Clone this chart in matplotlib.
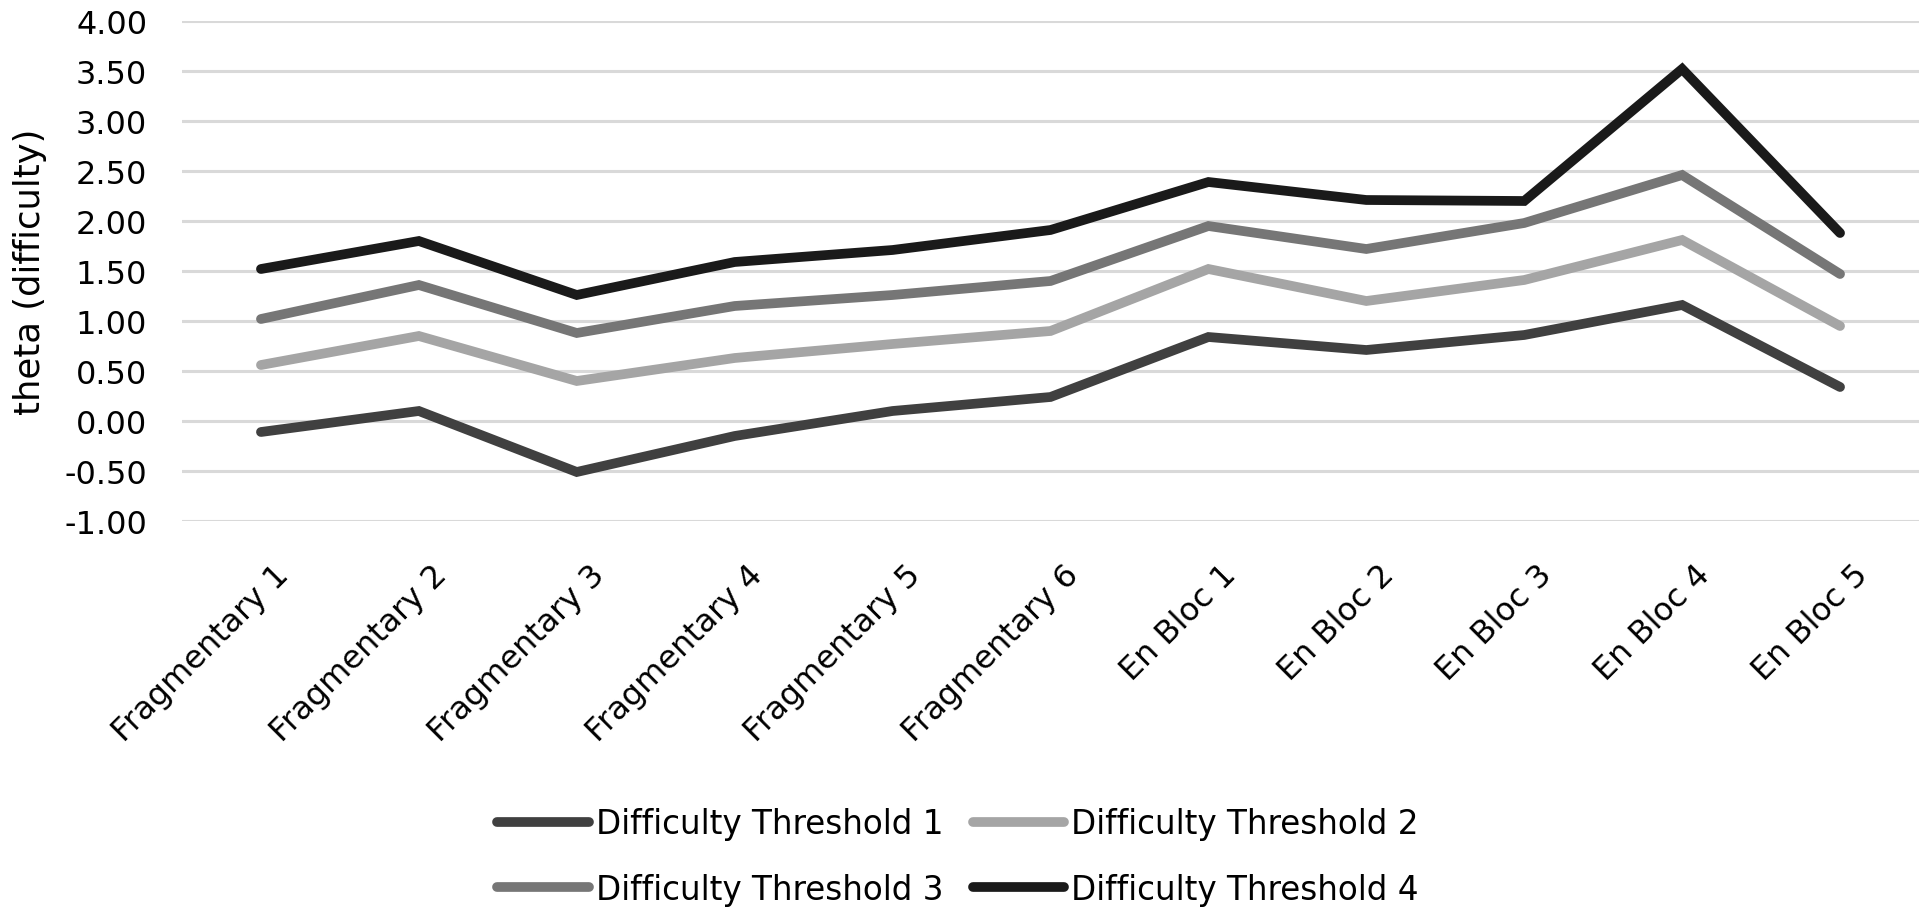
import matplotlib
matplotlib.use('Agg')
import matplotlib.pyplot as plt
from matplotlib.ticker import FormatStrFormatter, MultipleLocator
from matplotlib.transforms import ScaledTranslation

plt.rcParams['font.family'] = ['DejaVu Sans']
plt.rcParams['axes.unicode_minus'] = False

categories = ['Fragmentary 1', 'Fragmentary 2', 'Fragmentary 3', 'Fragmentary 4',
              'Fragmentary 5', 'Fragmentary 6', 'En Bloc 1', 'En Bloc 2',
              'En Bloc 3', 'En Bloc 4', 'En Bloc 5']

threshold_1 = [-0.11, 0.10, -0.51, -0.15, 0.10, 0.24, 0.84, 0.71, 0.86, 1.16, 0.34]
threshold_2 = [0.56, 0.85, 0.40, 0.63, 0.77, 0.90, 1.52, 1.20, 1.41, 1.81, 0.95]
threshold_3 = [1.02, 1.36, 0.88, 1.15, 1.26, 1.40, 1.95, 1.72, 1.98, 2.46, 1.47]
threshold_4 = [1.52, 1.80, 1.26, 1.59, 1.71, 1.91, 2.39, 2.21, 2.20, 3.52, 1.88]

series = [
    ('Difficulty Threshold 1', threshold_1, '#404040'),
    ('Difficulty Threshold 2', threshold_2, '#a5a5a5'),
    ('Difficulty Threshold 3', threshold_3, '#767676'),
    ('Difficulty Threshold 4', threshold_4, '#1a1a1a'),
]

fig = plt.figure(figsize=(19.2, 9.12), dpi=100)
ax = fig.add_axes([182 / 1920, 1 - 522 / 912, 1737 / 1920, 500 / 912])

x = list(range(len(categories)))
lines = []
for name, vals, col in series:
    ln, = ax.plot(x, vals, color=col, linewidth=7, label=name,
                  solid_capstyle='round', solid_joinstyle='miter', zorder=3)
    lines.append(ln)

ax.set_xlim(-0.5, len(categories) - 0.5)
ax.set_ylim(-1.0, 4.0)
ax.yaxis.set_major_locator(MultipleLocator(0.5))
ax.yaxis.set_major_formatter(FormatStrFormatter('%.2f'))
ax.grid(axis='y', color='#d9d9d9', linewidth=2.2, zorder=0)
ax.set_axisbelow(True)
for s in ax.spines.values():
    s.set_visible(False)

ax.set_xticks(x)
ax.set_xticklabels(categories, rotation=45, ha='right', va='top',
                   rotation_mode='anchor', fontsize=23)
ax.tick_params(axis='x', length=0, pad=27)
ax.tick_params(axis='y', length=0, pad=25, labelsize=23)
shift = ScaledTranslation(9 / 72, 0, fig.dpi_scale_trans)
for lab in ax.get_xticklabels():
    lab.set_transform(lab.get_transform() + shift)

ax.set_ylabel('theta (difficulty)', fontsize=25.5)
ax.yaxis.set_label_coords(-0.078, 0.5)

# excel fills the legend row by row
order = [0, 2, 1, 3]
fig.legend([lines[i] for i in order], [series[i][0] for i in order],
           loc='center', bbox_to_anchor=(0.499, 0.06), ncol=2, frameon=False,
           fontsize=23.5, handlelength=2.8, handletextpad=0.22, columnspacing=0.9,
           labelspacing=1.0)

fig.savefig('out.png', dpi=100)
